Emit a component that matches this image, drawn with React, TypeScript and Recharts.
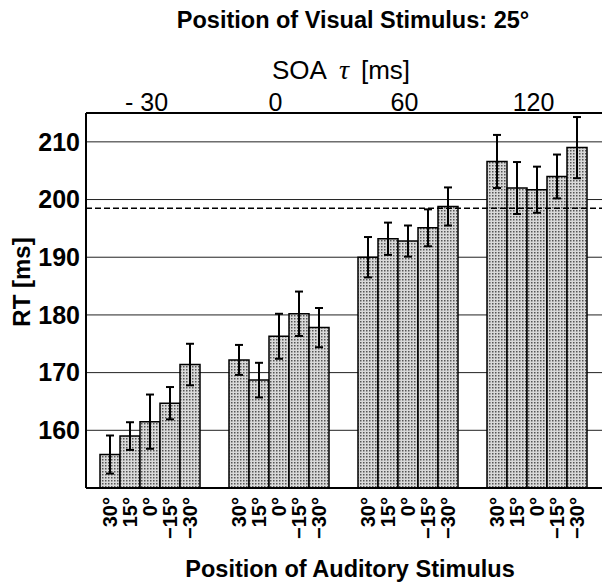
import React from 'react';
import { BarChart, Bar, XAxis, YAxis, CartesianGrid, ErrorBar, ReferenceLine, LabelList, Label } from 'recharts';

const soaLabels = ['- 30', '0', '60', '120'];
const positionLabels = ['30°', '15°', '0°', '−15°', '−30°'];

const rt30 = [155.8, 172.2, 190.0, 206.6];
const rt15 = [159.0, 168.7, 193.2, 202.0];
const rt0 = [161.5, 176.3, 192.8, 201.7];
const rtm15 = [164.7, 180.2, 195.1, 204.0];
const rtm30 = [171.4, 177.8, 198.8, 209.0];

const err30 = [3.3, 2.6, 3.5, 4.6];
const err15 = [2.4, 3.0, 2.8, 4.5];
const err0 = [4.7, 3.9, 2.7, 4.0];
const errm15 = [2.8, 3.85, 3.2, 3.8];
const errm30 = [3.6, 3.4, 3.3, 5.3];

const yTicks = [160, 170, 180, 190, 200, 210];
const unimodalRT = 198.5;

const seriesValues = [rt30, rt15, rt0, rtm15, rtm30];
const seriesErrors = [err30, err15, err0, errm15, errm30];

const data = soaLabels.map((soa, i) => {
  const row: any = { soa };
  seriesValues.forEach((s, k) => {
    row['v' + k] = s[i];
    row['e' + k] = seriesErrors[k][i];
  });
  return row;
});

const FONT = '"Liberation Sans", Arial, Helvetica, sans-serif';

const makePosLabel = (text: string) => (props: any) => {
  const vb = props.viewBox || props;
  const cx = vb.x + vb.width / 2;
  const top = vb.y + vb.height + 9;
  return (
    <text
      x={cx}
      y={top}
      transform={`rotate(-90, ${cx}, ${top})`}
      textAnchor="end"
      dy="0.36em"
      fontFamily={FONT}
      fontWeight="bold"
      fontSize={20}
      fill="#000"
    >
      {text}
    </text>
  );
};

const TopTitles = (props: any) => {
  const vb = props.viewBox;
  return (
    <g>
      <text x={353} y={vb.y - 45} textAnchor="middle" fontFamily={FONT} fontWeight="bold" fontSize={23.5} fill="#000">
        Position of Visual Stimulus: 25°
      </text>
      <text x={341} y={vb.y + 6} textAnchor="middle" fontFamily={FONT} fontSize={26} fill="#000">
        SOA
        <tspan dx={12} fontFamily='"Liberation Serif", "DejaVu Serif", serif' fontStyle="italic" fontSize={28}>τ</tspan>
        <tspan dx={12}>[ms]</tspan>
      </text>
    </g>
  );
};

const BottomTitle = (props: any) => {
  return (
    <text x={350} y={577} textAnchor="middle" fontFamily={FONT} fontWeight="bold" fontSize={23.5} fill="#000">
      Position of Auditory Stimulus
    </text>
  );
};

const YTitle = (props: any) => {
  const cx = 30;
  const cy = 282;
  return (
    <text x={cx} y={cy} transform={`rotate(-90, ${cx}, ${cy})`} textAnchor="middle" fontFamily={FONT} fontWeight="bold" fontSize={24} fill="#000">
      RT [ms]
    </text>
  );
};

export default function App() {
  return (
    <div style={{ position: 'absolute', left: 0, top: 0, width: 603, height: 584, background: '#fff' }}>
      <svg width={0} height={0} style={{ position: 'absolute' }}>
        <defs>
          <pattern id="stipple" width="3" height="3" patternUnits="userSpaceOnUse">
            <rect width="3" height="3" fill="#d9d9d9" />
            <rect x="0" y="0" width="1.5" height="1.5" fill="#555" />
          </pattern>
        </defs>
      </svg>
      <BarChart
        width={603}
        height={584}
        data={data}
        margin={{ top: 73, right: 1, bottom: 0, left: 0 }}
        barCategoryGap={14}
        barGap={0}
      >
        <CartesianGrid vertical={false} stroke="#222" strokeWidth={1} xAxisId="bottom" />
        <XAxis
          xAxisId="top"
          orientation="top"
          dataKey="soa"
          height={40}
          tickLine={false}
          tickSize={0}
          tickMargin={2}
          axisLine={{ stroke: '#000', strokeWidth: 2 }}
          tick={{ fontSize: 25, fill: '#000', fontFamily: FONT, dx: -4 }}
          interval={0}
        >
          <Label content={<TopTitles />} />
        </XAxis>
        <XAxis
          xAxisId="bottom"
          orientation="bottom"
          dataKey="soa"
          height={96}
          tick={false}
          tickLine={false}
          axisLine={{ stroke: '#000', strokeWidth: 2 }}
        >
          <Label content={<BottomTitle />} />
        </XAxis>
        <YAxis
          domain={[150, 215]}
          ticks={yTicks}
          allowDataOverflow
          width={86}
          tickLine={false}
          tickSize={0}
          tickMargin={6}
          axisLine={{ stroke: '#000', strokeWidth: 2 }}
          tick={{ fontSize: 25, fontWeight: 'bold', fill: '#000', fontFamily: FONT }}
        >
          <Label content={<YTitle />} />
        </YAxis>
        <ReferenceLine y={unimodalRT} xAxisId="bottom" stroke="#000" strokeWidth={1.5} strokeDasharray="6 3" />
        {positionLabels.map((p, k) => (
          <Bar
            key={p}
            xAxisId="bottom"
            dataKey={'v' + k}
            fill="url(#stipple)"
            stroke="#000"
            strokeWidth={1.5}
            isAnimationActive={false}
          >
            <ErrorBar dataKey={'e' + k} width={4} stroke="#000" strokeWidth={2} direction="y" />
            <LabelList content={makePosLabel(p)} />
          </Bar>
        ))}
      </BarChart>
    </div>
  );
}
